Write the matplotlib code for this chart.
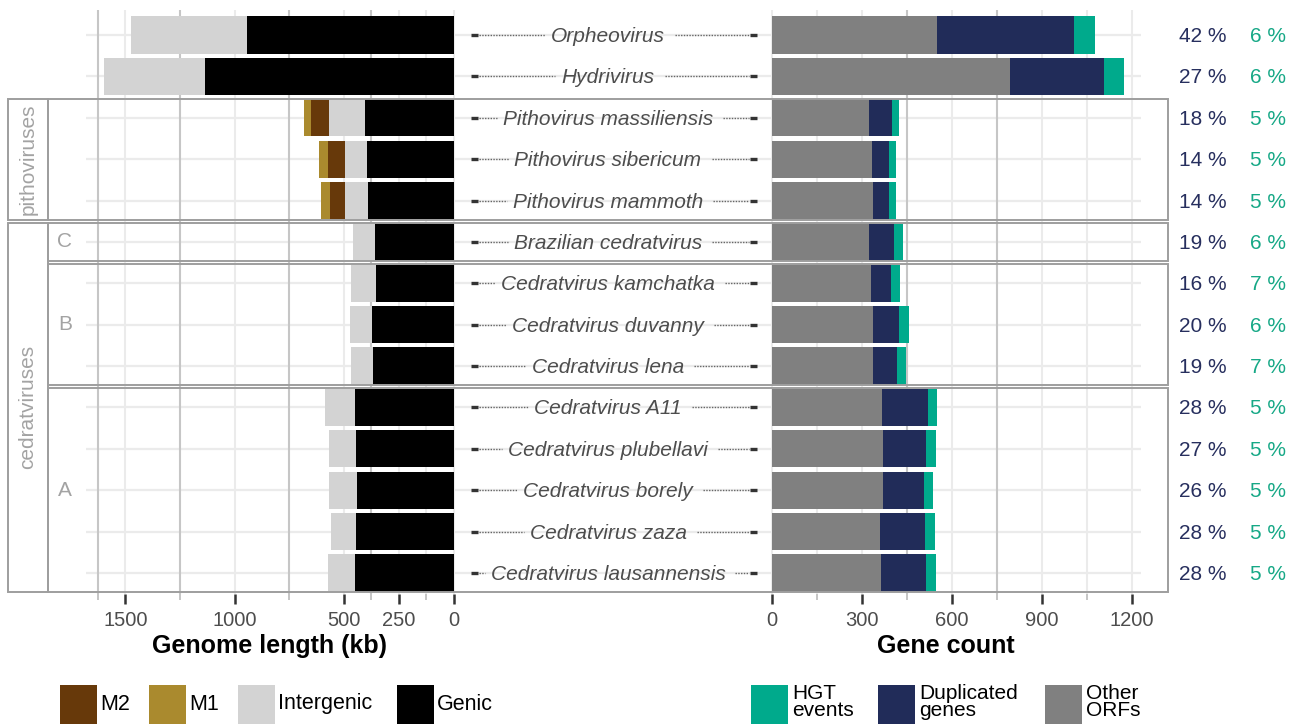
import matplotlib.pyplot as plt
from matplotlib.patches import Rectangle
import numpy as np

plt.rcParams['font.family'] = ['Liberation Sans', 'DejaVu Sans']

# ---- data ----
species = ['Orpheovirus', 'Hydrivirus', 'Pithovirus massiliensis', 'Pithovirus sibericum',
           'Pithovirus mammoth', 'Brazilian cedratvirus', 'Cedratvirus kamchatka',
           'Cedratvirus duvanny', 'Cedratvirus lena', 'Cedratvirus A11',
           'Cedratvirus plubellavi', 'Cedratvirus borely', 'Cedratvirus zaza',
           'Cedratvirus lausannensis']
clade = ['', '', 'pithoviruses', 'pithoviruses', 'pithoviruses'] + ['cedratviruses'] * 9
subclade = ['', '', '', '', '', 'C', 'B', 'B', 'B', 'A', 'A', 'A', 'A', 'A']

# genome length (kb)
genic = [946, 1135, 405, 396, 391, 359, 354, 373, 368, 450, 446, 441, 446, 450]
intergenic = [527, 463, 164, 100, 105, 101, 115, 100, 101, 138, 123, 128, 114, 124]
m2 = [0, 0, 83, 78, 69, 0, 0, 0, 0, 0, 0, 0, 0, 0]
m1 = [0, 0, 32, 41, 41, 0, 0, 0, 0, 0, 0, 0, 0, 0]

# gene counts
other_orfs = [551, 793, 324, 334, 335, 324, 331, 335, 335, 368, 370, 370, 361, 364]
duplicated = [455, 314, 77, 56, 55, 81, 67, 89, 83, 153, 144, 138, 150, 150]
hgt = [70, 67, 23, 24, 24, 30, 29, 31, 30, 30, 31, 30, 31, 31]

dup_pct = [42, 27, 18, 14, 14, 19, 16, 20, 19, 28, 27, 26, 28, 28]
hgt_pct = [6, 6, 5, 5, 5, 6, 7, 6, 7, 5, 5, 5, 5, 5]

len_ticks = [0, 250, 500, 1000, 1500]
len_minor = [125, 375, 750, 1250, 1625]
cnt_ticks = [0, 300, 600, 900, 1200]
cnt_minor = [150, 450, 750, 1050]

# ---- colours ----
c_genic, c_inter, c_m2, c_m1 = '#000000', '#D3D3D3', '#67390A', '#AA8A2E'
c_other, c_dup, c_hgt = '#808080', '#212C59', '#00AA8C'
c_frame = '#9E9E9E'
c_txt = '#4D4D4D'

W, H = 1298, 724
fig = plt.figure(figsize=(W / 100, H / 100), dpi=100)


def px_axes(x0, x1, y0, y1):
    return fig.add_axes([x0 / W, 1 - y1 / H, (x1 - x0) / W, (y1 - y0) / H])


row0_px, row_step = 35, 41.38
top_px, bot_px = 10, 594
ylims = ((bot_px - row0_px) / row_step, (top_px - row0_px) / row_step)
rows = np.arange(len(species))


def ypx(r):
    return row0_px + r * row_step


# background: horizontal grid + middle labels
ax_bg = px_axes(86, 1141, top_px, bot_px)
ax_bg.set_xlim(86, 1141)
ax_bg.set_ylim(ylims)
ax_bg.axis('off')
for r in rows:
    ax_bg.axhline(r, color='#EBEBEB', lw=1.6, zorder=0)


def style_axis(ax, majors, minors, light, dark):
    ax.set_ylim(ylims)
    ax.patch.set_alpha(0)
    for s in ax.spines.values():
        s.set_visible(False)
    for v in light:
        ax.axvline(v, color='#EBEBEB', lw=1.5, zorder=0)
    for v in dark:
        ax.axvline(v, color='#C6C6C6', lw=1.5, zorder=0)
    ax.set_yticks([])
    ax.set_xticks(majors)
    ax.set_xticklabels([str(t) for t in majors])
    ax.set_xticks(minors, minor=True)
    ax.tick_params(axis='x', which='major', length=7, width=1.8, color='#333333',
                   labelsize=14.5, labelcolor=c_txt, pad=5)
    ax.tick_params(axis='x', which='minor', length=4, width=1.2, color='#BBBBBB')


# left panel: genome length
ax_l = px_axes(86, 460, top_px, bot_px)
ax_l.set_xlim((453.5 - 86) / 0.2187, (453.5 - 460) / 0.2187)
style_axis(ax_l, len_ticks, len_minor, len_ticks + [125], [375, 750, 1250, 1625])
g = np.array(genic)
i_ = np.array(intergenic)
a2 = np.array(m2)
ax_l.barh(rows, g, height=0.9, color=c_genic, zorder=2)
ax_l.barh(rows, i_, left=g, height=0.9, color=c_inter, zorder=2)
ax_l.barh(rows, a2, left=g + i_, height=0.9, color=c_m2, zorder=2)
ax_l.barh(rows, m1, left=g + i_ + a2, height=0.9, color=c_m1, zorder=2)

# right panel: gene count
ax_r = px_axes(760, 1141, top_px, bot_px)
ax_r.set_xlim((760 - 772) / 0.3, (1141 - 772) / 0.3)
style_axis(ax_r, cnt_ticks, cnt_minor, [0, 150, 300, 600, 900, 1050, 1200], [450, 750])
o = np.array(other_orfs)
d = np.array(duplicated)
ax_r.barh(rows, o, height=0.9, color=c_other, zorder=2)
ax_r.barh(rows, d, left=o, height=0.9, color=c_dup, zorder=2)
ax_r.barh(rows, hgt, left=o + d, height=0.9, color=c_hgt, zorder=2)

# species labels with dotted leaders
nudge = 1.5 / row_step
labels = []
for r, name in zip(rows, species):
    t = ax_bg.text(608, r + nudge, name, ha='center', va='center', fontsize=15,
                   style='italic', color=c_txt, zorder=3)
    labels.append(t)
    ax_bg.plot([471, 478], [r, r], color='#333333', lw=2.4, solid_capstyle='butt', zorder=3)
    ax_bg.plot([750, 757], [r, r], color='#333333', lw=2.4, solid_capstyle='butt', zorder=3)
fig.canvas.draw()
for r, t in zip(rows, labels):
    bb = t.get_window_extent()
    x0, x1 = bb.x0 - 6, bb.x1 + 10
    if x0 > 479:
        ax_bg.plot([479, x0], [r, r], color='#666666', lw=1.0, ls=(0, (1, 1)), zorder=2)
    if x1 < 749:
        ax_bg.plot([x1, 749], [r, r], color='#666666', lw=1.0, ls=(0, (1, 1)), zorder=2)

# overlay in pixel space: frames, strips, percentages, titles, legend
ov = fig.add_axes([0, 0, 1, 1])
ov.set_xlim(0, W)
ov.set_ylim(H, 0)
ov.axis('off')
ov.patch.set_alpha(0)


def groups(keys):
    out = []
    start = 0
    for k in range(1, len(keys) + 1):
        if k == len(keys) or keys[k] != keys[start]:
            out.append((keys[start], start, k - 1))
            start = k
    return out


for (name, r0, r1) in groups(clade):
    if not name:
        continue
    y0, y1 = ypx(r0 - 0.5) + 1.5, ypx(r1 + 0.5) - 1.5
    ov.add_patch(Rectangle((8, y0), 40, y1 - y0, fill=False, ec=c_frame, lw=1.4))
    ov.text(28, (y0 + y1) / 2, name, rotation=90, ha='center', va='center',
            fontsize=15, color='#A3A3A3')
for (key, r0, r1) in groups(list(zip(clade, subclade))):
    if not key[0]:
        continue
    y0, y1 = ypx(r0 - 0.5) + 1.5, ypx(r1 + 0.5) - 1.5
    ov.add_patch(Rectangle((48, y0), 1120, y1 - y0, fill=False, ec=c_frame, lw=1.4))
    if key[1]:
        ov.text(65, (y0 + y1) / 2, key[1], ha='center', va='center', fontsize=15,
                color='#A3A3A3')

for r in rows:
    ov.text(1203, ypx(r) + 1.5, f'{dup_pct[r]} %', ha='center', va='center', fontsize=15,
            color='#272F5E')
    ov.text(1268, ypx(r) + 1.5, f'{hgt_pct[r]} %', ha='center', va='center', fontsize=15,
            color='#16A886')

ov.text(270, 646, 'Genome length (kb)', ha='center', va='center', fontsize=18,
        fontweight='bold')
ov.text(946, 646, 'Gene count', ha='center', va='center', fontsize=18,
        fontweight='bold')

# legends
for x, col, lab in [(60, c_m2, 'M2'), (149, c_m1, 'M1'), (238, c_inter, 'Intergenic'),
                    (397, c_genic, 'Genic')]:
    ov.add_patch(Rectangle((x, 685), 37, 42, color=col, lw=0))
    ov.text(x + 40, 704, lab, ha='left', va='center', fontsize=15.5)
for x, col, lab in [(751, c_hgt, 'HGT\nevents'), (878, c_dup, 'Duplicated\ngenes'),
                    (1045, c_other, 'Other\nORFs')]:
    ov.add_patch(Rectangle((x, 685), 37, 42, color=col, lw=0))
    ov.text(x + 41, 684, lab, ha='left', va='top', fontsize=15, linespacing=0.85)

fig.savefig('out.png', dpi=100)
